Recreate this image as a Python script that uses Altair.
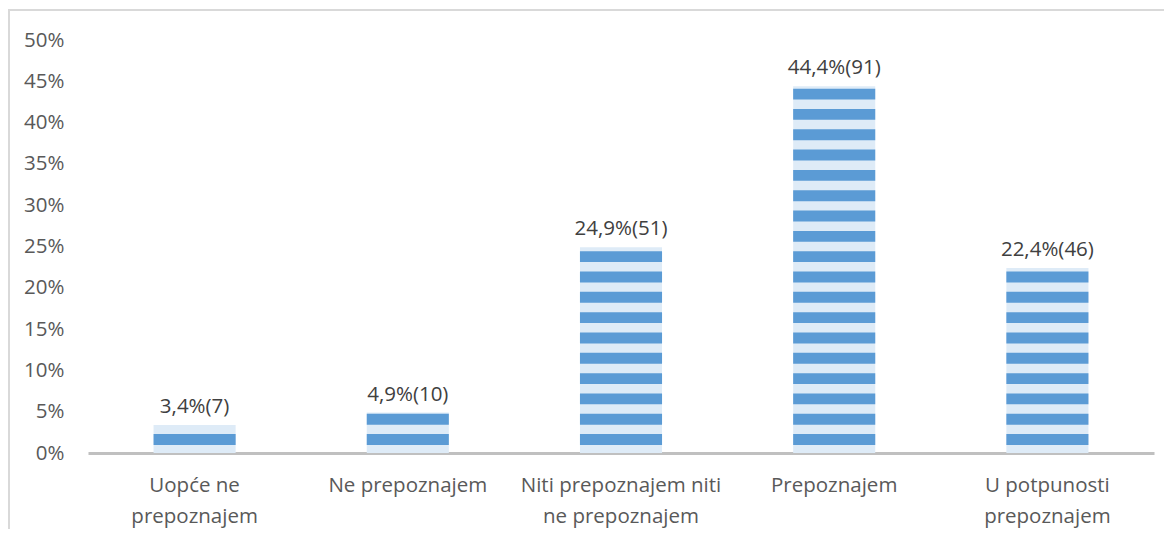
import altair as alt
import pandas as pd

categories = ["Uopće ne|prepoznajem", "Ne prepoznajem", "Niti prepoznajem niti|ne prepoznajem",
              "Prepoznajem", "U potpunosti|prepoznajem"]
percent = [3.4, 4.9, 24.9, 44.4, 22.4]
counts = [7, 10, 51, 91, 46]

# stripe pattern (in % units) for the hatched bar fill
STRIPE_PERIOD = 2.46
STRIPE_START = 0.97
STRIPE_DARK = 1.32

bars = pd.DataFrame({
    "cat": categories,
    "pct": percent,
    "label": [f"{p:.1f}".replace(".", ",") + f"%({c})" for p, c in zip(percent, counts)],
})

rows = []
for cat, p in zip(categories, percent):
    k = 0
    while STRIPE_START + k * STRIPE_PERIOD < p:
        y0 = STRIPE_START + k * STRIPE_PERIOD
        y1 = min(y0 + STRIPE_DARK, p)
        rows.append({"cat": cat, "y0": y0, "y1": y1})
        k += 1
stripes = pd.DataFrame(rows)

FONT = "Open Sans"
FS = 20.5
xscale = alt.Scale(domain=categories, paddingInner=0.615, paddingOuter=0.3075)
yscale = alt.Scale(domain=[0, 50], nice=False)

x = alt.X("cat:N", scale=xscale, sort=categories, title=None,
          axis=alt.Axis(labelAngle=0, labelExpr="split(datum.label, '|')",
                        labelFont=FONT, labelFontSize=FS, labelColor="#595959",
                        labelLineHeight=31.5, labelPadding=22, ticks=False,
                        domainColor="#c0c0c0", domainWidth=3, labelLimit=300))

base_bar = alt.Chart(bars).mark_bar(color="#deebf7").encode(
    x=x,
    y=alt.Y("pct:Q", scale=yscale, title=None,
            axis=alt.Axis(values=list(range(0, 51, 5)), labelExpr="datum.value + '%'",
                          grid=False, ticks=False, domain=False, labelFont=FONT,
                          labelFontSize=FS, labelColor="#595959", labelPadding=24)),
)

stripe_bar = alt.Chart(stripes).mark_bar(color="#5b9bd5").encode(
    x=alt.X("cat:N", scale=xscale, sort=categories),
    y=alt.Y("y0:Q", scale=yscale),
    y2="y1:Q",
)

text = alt.Chart(bars).mark_text(font=FONT, fontSize=FS, color="#404040",
                                 baseline="bottom", dy=-8).encode(
    x=alt.X("cat:N", scale=xscale, sort=categories),
    y=alt.Y("pct:Q", scale=yscale),
    text="label:N",
)

frame_top = alt.Chart(bars).mark_rule(color="#d9d9d9", strokeWidth=2).encode(
    x=alt.value(-80), x2=alt.value(1080), y=alt.value(-30))
frame_left = alt.Chart(bars).mark_rule(color="#d9d9d9", strokeWidth=2).encode(
    x=alt.value(-79), y=alt.value(-31), y2=alt.value(500))

chart = alt.layer(frame_top, frame_left, base_bar, stripe_bar, text).properties(
    width=1066, height=413,
    background="white",
    autosize=alt.AutoSizeParams(type="none"),
    padding={"left": 80, "top": 32, "right": 10, "bottom": 76},
).configure_view(strokeWidth=0, stroke=None)

chart.save("out.html", embed_options={"renderer": "svg", "actions": False})
